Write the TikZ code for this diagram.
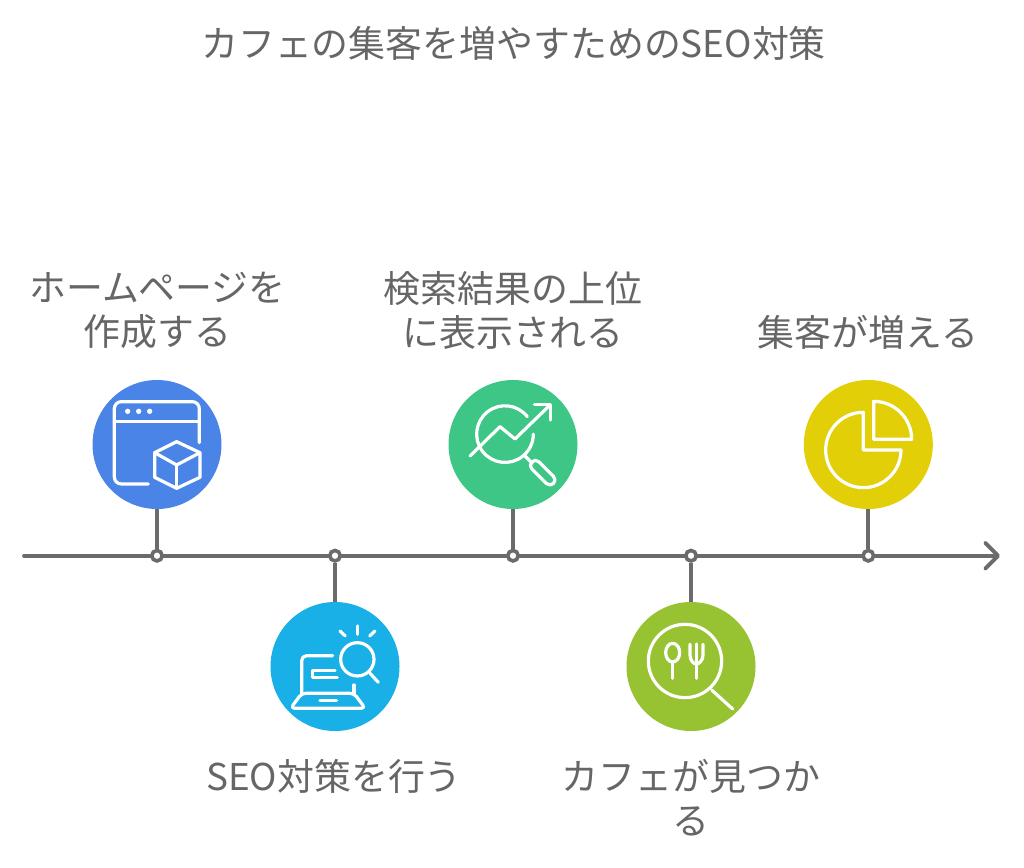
\documentclass[tikz,border=0pt]{standalone}
\usepackage{fontspec}
\setmainfont{Noto Sans CJK JP}
\usetikzlibrary{arrows.meta}
\definecolor{linegray}{HTML}{6B6B6B}
\definecolor{textgray}{HTML}{666666}
\definecolor{webblue}{HTML}{4A84E6}
\definecolor{seocyan}{HTML}{18B0E6}
\definecolor{rankgreen}{HTML}{3EC687}
\definecolor{cafeolive}{HTML}{97C232}
\definecolor{guestyellow}{HTML}{E3CF08}
\tikzset{
  stepcircle/.style={circle, minimum size=129pt, inner sep=0pt},
  tickdot/.style={circle, draw=linegray, fill=white, line width=3.6pt, minimum size=10.5pt, inner sep=0pt},
  stemline/.style={draw=linegray, line width=3.8pt},
  label/.style={text=textgray, font=\fontsize{36.9}{44}\selectfont, align=center, inner sep=0pt},
  iconline/.style={draw=white, line width=3.2pt, line cap=round, line join=round}
}
\begin{document}
\begin{tikzpicture}[x=1pt, y=-1pt]
      \useasboundingbox (0,0) rectangle (1024,867);
      \coordinate (axisstart) at (24,555.7);
      \coordinate (axisend) at (1000,555.7);
      \draw[stemline, line cap=round, -{Straight Barb[round, length=13pt, width=26pt]}] (axisstart)--(axisend);

      \node[label] (title) at (513.5,43) {カフェの集客を増やすためのSEO対策};

      \node[stepcircle, fill=webblue] (web) at (157,444.5) {};
      \node[stepcircle, fill=seocyan] (seo) at (335,666.5) {};
      \node[stepcircle, fill=rankgreen] (rank) at (513,444.5) {};
      \node[stepcircle, fill=cafeolive] (cafe) at (691,666.5) {};
      \node[stepcircle, fill=guestyellow] (guest) at (868.3,444.5) {};

      \node[tickdot] (dotweb) at (157,555.7) {};
      \node[tickdot] (dotseo) at (335,555.7) {};
      \node[tickdot] (dotrank) at (513,555.7) {};
      \node[tickdot] (dotcafe) at (691,555.7) {};
      \node[tickdot] (dotguest) at (868.3,555.7) {};
      \draw[stemline] (web)--(dotweb);
      \draw[stemline] (seo)--(dotseo);
      \draw[stemline] (rank)--(dotrank);
      \draw[stemline] (cafe)--(dotcafe);
      \draw[stemline] (guest)--(dotguest);

      \node[label] (webtext) at (157.5,310) {ホームページを\\作成する};
      \node[label] (seotext) at (334,776) {SEO対策を行う};
      \node[label] (ranktext) at (513,310) {検索結果の上位\\に表示される};
      \node[label] (cafetext) at (691,798) {カフェが見つか\\る};
      \node[label] (guesttext) at (868,332) {集客が増える};

      % window and cube
      \begin{scope}[shift={(80,370)}, x=0.3333pt, y=-0.3333pt, iconline]
        \draw[rounded corners=7pt] (358,218)--(358,95)--(103,95)--(103,342)--(205,342);
        \draw (103,155)--(358,155);
        \foreach \dotx in {143,176,209}
          \fill[white] (\dotx,124) circle[radius=8];
        \draw (290,215)--(360,248)--(360,322)--(290,355)--(224,322)--(224,248)--cycle;
        \draw (224,248)--(290,285)--(360,248);
        \draw (290,285)--(290,355);
      \end{scope}

      % laptop and magnifier
      \begin{scope}[shift={(260,540)}, x=0.3333pt, y=-0.3333pt, iconline]
        \draw (292,358) circle[radius=50];
        \draw (330,400)--(355,427);
        \draw (292,258)--(292,283);
        \draw (240,273)--(256,288);
        \draw (345,273)--(329,288);
        \draw[rounded corners=5pt] (218,347)--(125,347)--(125,460);
        \draw (282,435)--(282,460);
        \draw[rounded corners=4pt] (125,460)--(282,460)--(316,505)--(92,505)--cycle;
        \draw (180,481)--(230,481);
        \draw (225,392)--(158,392)--(158,413)--(232,413);
      \end{scope}

      % chart and magnifier
      \begin{scope}[shift={(440,370)}, x=0.3333pt, y=-0.3333pt, iconline]
        \draw (262,140) arc[start angle=-38, end angle=-360, radius=85];
        \draw (90,258)--(180,170)--(225,207)--(330,105);
        \draw (283,103)--(332,103)--(332,150);
        \draw (255,258)--(277,280);
        \draw[rounded corners=5pt, rotate around={-45:(308,308)}] (262,293) rectangle (354,323);
      \end{scope}

      % spoon and fork
      \begin{scope}[shift={(615,540)}, x=0.3333pt, y=-0.3333pt, iconline]
        \draw (210,363) circle[radius=110];
        \draw (290,450)--(353,507);
        \draw (173,338) ellipse[x radius=21, y radius=28];
        \draw (173,366)--(173,415);
        \draw (244,312)--(244,415);
        \draw (225,313)--(225,345) .. controls (225,362) and (236,372) .. (244,372) .. controls (252,372) and (264,362) .. (264,345)--(264,313);
      \end{scope}

      % pie chart
      \begin{scope}[shift={(795,370)}, x=0.3333pt, y=-0.3333pt, iconline]
        \draw (205,240)--(205,127) arc[start angle=-90, end angle=-360, radius=113]--cycle;
        \draw (236,208)--(236,94) arc[start angle=-90, end angle=0, radius=114]--cycle;
      \end{scope}
\end{tikzpicture}
\end{document}
